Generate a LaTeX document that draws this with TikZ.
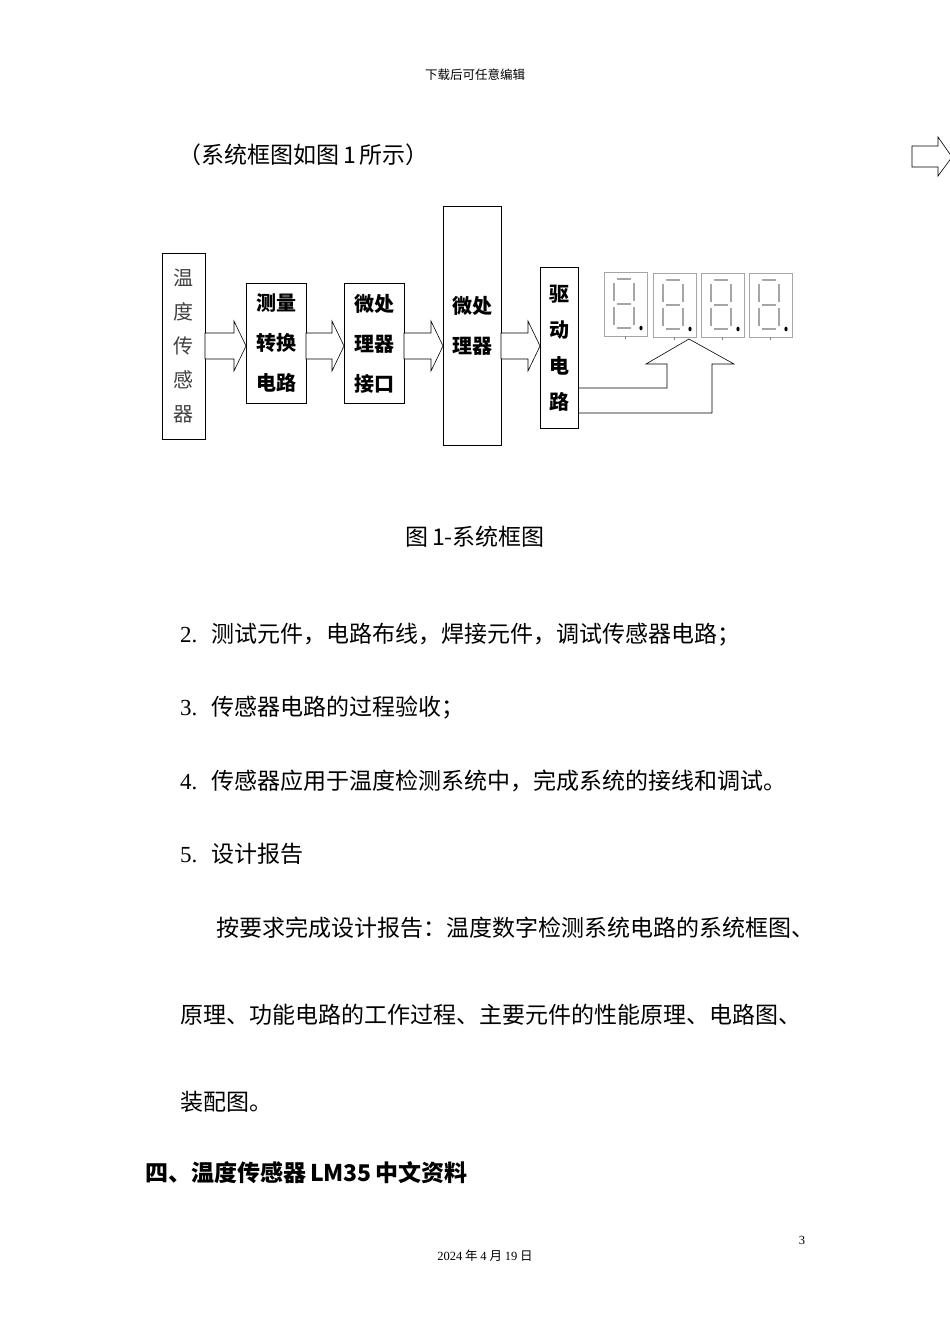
\documentclass[tikz,border=0pt]{standalone}
\usepackage{fontspec}
\setmainfont{Noto Sans CJK SC}
\newfontfamily\serifnum{Liberation Serif}
\begin{document}
\begin{tikzpicture}[x=1pt,y=-1pt,
  blk/.style={draw,thick,inner sep=0pt,anchor=north west},
  lab/.style={font=\fontsize{20}{40}\selectfont\bfseries,align=center},
  body/.style={font=\fontsize{23}{28}\selectfont,anchor=west,inner sep=0pt},
  hol/.style={draw,semithick,fill=white},
  segc/.style={draw=gray!70,line width=1.6pt}]
\useasboundingbox (0,0) rectangle (950,1344);
\newcommand\holarrow[3]{\draw[hol] (#1,#3-13)--(#2-12,#3-13)--(#2-12,#3-25)--(#2,#3)--(#2-12,#3+25)--(#2-12,#3+13)--(#1,#3+13)--cycle;}
\newcommand\dispseg[2]{%
 \draw[gray!70,thick] (#1,#2) rectangle ++(43,64);
 \draw[segc] (#1+13,#2+7)--(#1+27,#2+7);
 \draw[segc] (#1+13,#2+32)--(#1+27,#2+32);
 \draw[segc] (#1+13,#2+56)--(#1+27,#2+56);
 \draw[segc] (#1+10,#2+11)--(#1+10,#2+29);
 \draw[segc] (#1+30,#2+11)--(#1+30,#2+29);
 \draw[segc] (#1+10,#2+35)--(#1+10,#2+53);
 \draw[segc] (#1+30,#2+35)--(#1+30,#2+53);
 \fill (#1+37,#2+56) ellipse (1.6 and 2.3);
 \draw[gray] (#1+21,#2+64)--(#1+21,#2+67);}
\node[font=\fontsize{12.5}{14}\selectfont] (hdr) at (475,75) {下载后可任意编辑};
\node[font=\fontsize{23}{28}\selectfont,anchor=west,inner sep=0pt] (intro) at (178,155) {（系统框图如图\,1\,所示）};
\draw[semithick] (912,146)--(938,146)--(938,137)--(952,157)--(938,176)--(938,167)--(912,167)--cycle;
% boxes
\node[blk,minimum width=43,minimum height=186] (b1) at (162,253) {};
\node[font=\fontsize{20}{34}\selectfont,align=center,text=black!75] at (b1.center) {温\\度\\传\\感\\器};
\node[blk,minimum width=60,minimum height=120] (b2) at (246,283) {};
\node[lab] at (b2.center) {测量\\转换\\电路};
\node[blk,minimum width=60,minimum height=120] (b3) at (344,283) {};
\node[lab] at (b3.center) {微处\\理器\\接口};
\node[blk,minimum width=58,minimum height=239] (b4) at (443,206) {};
\node[lab] at (b4.center) {微处\\理器};
\node[blk,minimum width=38,minimum height=161] (b5) at (540,267) {};
\node[lab,font=\fontsize{20}{36}\selectfont\bfseries] at (b5.center) {驱\\动\\电\\路};
\holarrow{205}{246}{346}
\holarrow{306}{344}{346}
\holarrow{404}{443}{346}
\holarrow{501}{540}{346}
\dispseg{604}{272}
\dispseg{653}{273}
\dispseg{701}{273}
\dispseg{749}{273}
\coordinate (tip) at (689,339);
\draw[semithick] (b5.east |- 0,388) -- (667,388) -- (667,364) -- (646,364) -- (tip) -- (734,364) -- (712,364) -- (712,413) -- (b5.east |- 0,413);
\node[font=\fontsize{23}{28}\selectfont] (cap) at (475,537) {图\,1-系统框图};
\node[body] (l2) at (180,635) {{\serifnum 2.}\hspace{14pt}测试元件，电路布线，焊接元件，调试传感器电路；};
\node[body] (l3) at (180,708) {{\serifnum 3.}\hspace{14pt}传感器电路的过程验收；};
\node[body] (l4) at (180,781) {{\serifnum 4.}\hspace{14pt}传感器应用于温度检测系统中，完成系统的接线和调试。};
\node[body] (l5) at (180,854) {{\serifnum 5.}\hspace{14pt}设计报告};
\node[body] (p1) at (216,928) {按要求完成设计报告：温度数字检测系统电路的系统框图、};
\node[body] (p2) at (180,1015) {原理、功能电路的工作过程、主要元件的性能原理、电路图、};
\node[body] (p3) at (180,1102) {装配图。};
\node[body,font=\fontsize{23}{28}\selectfont\bfseries] (h4) at (145,1173) {四、温度传感器\,LM35\,中文资料};
\node[font=\serifnum\fontsize{12.5}{14}\selectfont] (pg) at (802,1240) {3};
\node[font=\fontsize{12.5}{14}\selectfont] (dt) at (485,1256) {{\serifnum 2024} 年 {\serifnum 4} 月 {\serifnum 19} 日};
\end{tikzpicture}
\end{document}
